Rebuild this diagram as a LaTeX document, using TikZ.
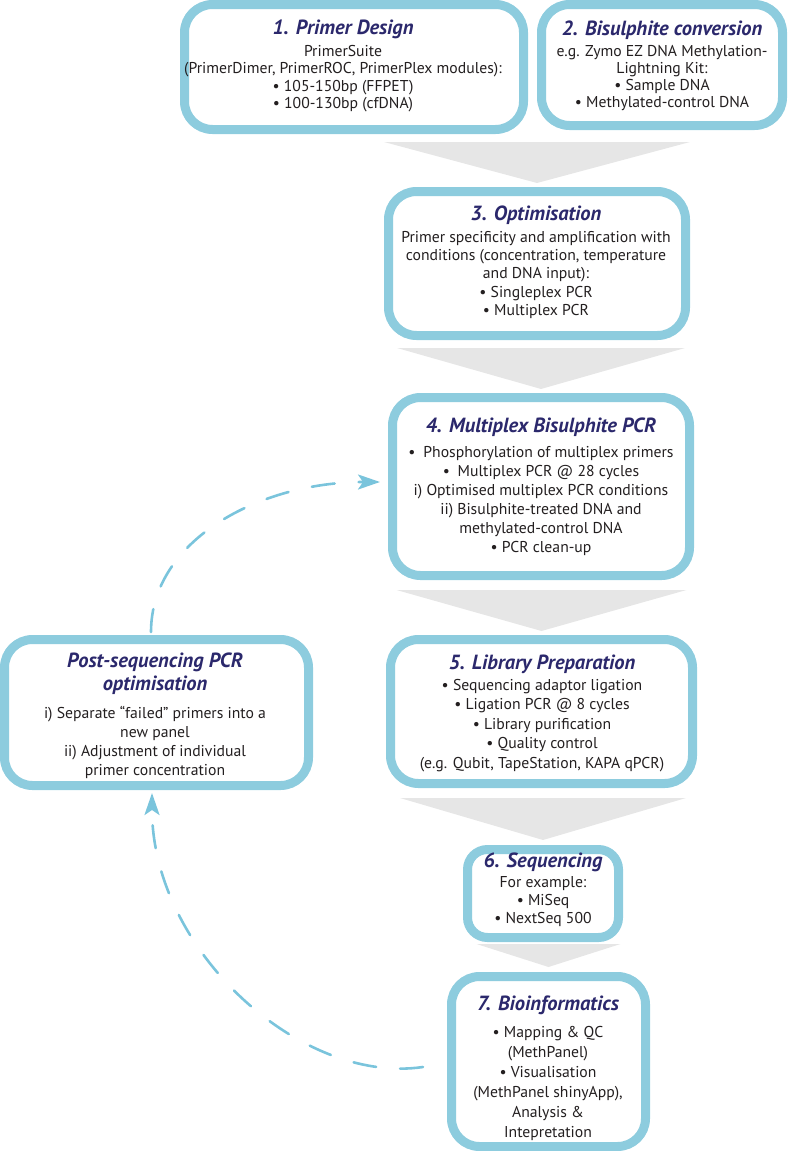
\documentclass[tikz,border=0pt]{standalone}
\usepackage{fontspec}
\setmainfont{PT Sans}
\usetikzlibrary{arrows.meta,calc}
\definecolor{boxblue}{RGB}{141,204,222}
\definecolor{dashblue}{RGB}{122,196,220}
\definecolor{titlecol}{RGB}{43,40,108}
\definecolor{bodycol}{RGB}{35,31,32}
\definecolor{arrowgray}{RGB}{230,230,230}
\newcommand{\ttl}[1]{{\fontsize{20.5}{24}\selectfont\bfseries\itshape\color{titlecol}#1}}
\begin{document}
\begin{tikzpicture}[x=1pt,y=-1pt,
  stage/.style={draw=boxblue, line width=9pt, rounded corners=28pt, fill=white, inner sep=0pt, shape=rectangle},
  txt/.style={anchor=north, align=center, inner sep=0pt, text=bodycol},
  bsk/.style={font=\fontsize{15.7}{#1}\selectfont},
  garrow/.style={fill=arrowgray},
  loopline/.style={draw=dashblue, line width=2.6pt, dash pattern=on 23pt off 24pt, line cap=round,
     -{Stealth[length=22pt,width=15pt,inset=5pt]}}]
\useasboundingbox (0,0) rectangle (787,1151);

% boxes
\node[stage, minimum width=339, minimum height=125] (b1) at (354,67) {};
\node[stage, minimum width=241, minimum height=121] (b2) at (662,65) {};
\node[stage, minimum width=297, minimum height=144] (b3) at (537,263.5) {};
\node[stage, minimum width=297, minimum height=178] (b4) at (541,486.5) {};
\node[stage, minimum width=302, minimum height=144] (b5) at (541.5,711.5) {};
\node[stage, minimum width=304, minimum height=146] (p) at (156.5,712.5) {};
\node[stage, rounded corners=20pt, minimum width=151, minimum height=88] (b6) at (543,893.5) {};
\node[stage, minimum width=194, minimum height=170] (b7) at (548.5,1061.5) {};

% gray step arrows
\fill[garrow] ($(b3.north)+(-153,-45)$) -- ($(b3.north)+(153,-45)$) -- ($(b3.north)+(0,-4)$) -- cycle;
\fill[garrow] ($(b4.north)+(-144,-45)$) -- ($(b4.north)+(144,-45)$) -- ($(b4.north)+(0,-4)$) -- cycle;
\fill[garrow] ($(b5.north)+(-145,-45)$) -- ($(b5.north)+(145,-45)$) -- ($(b5.north)+(0,-4)$) -- cycle;
\fill[garrow] ($(b6.north)+(-143,-47)$) -- ($(b6.north)+(143,-47)$) -- ($(b6.north)+(0,-5)$) -- cycle;
\fill[garrow] ($(b7.north)+(-72,-28)$) -- ($(b7.north)+(72,-28)$) -- ($(b7.north)+(0,-5)$) -- cycle;

% texts
\node[txt, bsk=17.3] (t1) at (343,19.4) {\ttl{1. Primer Design}\\[5pt]
PrimerSuite\\
(PrimerDimer, PrimerROC, PrimerPlex modules):\\
• 105-150bp (FFPET)\\
• 100-130bp (cfDNA)};
\node[txt, bsk=17] (t2) at (662,20.4) {\ttl{2. Bisulphite conversion}\\[4.5pt]
e.g. Zymo EZ DNA Methylation-\\
Lightning Kit:\\
• Sample DNA\\
• Methylated-control DNA};
\node[txt, bsk=18.3] (t3) at (536,206) {\ttl{3. Optimisation}\\[3pt]
Primer specificity and amplification with\\
conditions (concentration, temperature\\
and DNA input):\\
• Singleplex PCR\\
• Multiplex PCR};
\node[txt, bsk=19] (t4) at (541,417.4) {\ttl{4. Multiplex Bisulphite PCR}\\[6.5pt]
•\enspace Phosphorylation of multiplex primers\\
•\enspace Multiplex PCR @ 28 cycles\\
i) Optimised multiplex PCR conditions\\
ii) Bisulphite-treated DNA and\\
methylated-control DNA\\
• PCR clean-up};
\node[txt, bsk=19.5] (t5) at (542,654.4) {\ttl{5. Library Preparation}\\[1.5pt]
• Sequencing adaptor ligation\\
• Ligation PCR @ 8 cycles\\
• Library purification\\
• Quality control\\
(e.g. Qubit, TapeStation, KAPA qPCR)};
\node[txt, bsk=19] (tp) at (155,652.4) {\ttl{Post-sequencing PCR}\\[4pt]
\ttl{optimisation}\\[9pt]
i) Separate “failed” primers into a\\
new panel\\
ii) Adjustment of individual\\
primer concentration};
\node[txt, bsk=18.3] (t6) at (543,853) {\ttl{6. Sequencing}\\[1pt]
For example:\\
• MiSeq\\
• NextSeq 500};
\node[txt, bsk=20] (t7) at (548,995.4) {\ttl{7. Bioinformatics}\\[7.5pt]
• Mapping \& QC\\
(MethPanel)\\
• Visualisation\\
(MethPanel shinyApp),\\
Analysis \&\\
Intepretation};

% feedback loop
\draw[loopline] ($(p.north)+(-5.5,-3)$) .. controls (151,540) and (260,482) .. ($(b4.west)+(-8,-4.5)$);
\draw[loopline] ($(b7.west)+(-24,5.5)$) .. controls (300,1085) and (152,950) .. ($(p.south)+(-4.5,3)$);
\end{tikzpicture}
\end{document}
